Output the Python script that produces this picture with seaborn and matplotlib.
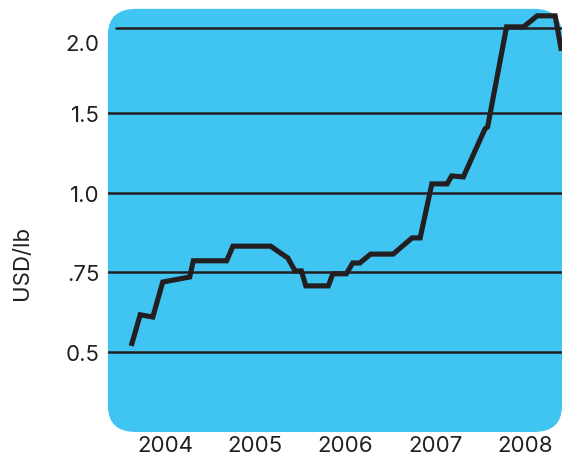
# Price chart, USD/lb, 2004-2008 (uneven value axis, rounded blue panel)

import numpy as np
import pandas as pd
import matplotlib.pyplot as plt
import seaborn as sns
from matplotlib.patches import FancyBboxPatch

sns.set_theme(style="white")
plt.rcParams["font.family"] = ["Inter", "DejaVu Sans"]

# ── Data ────────────────────────────────────────────────────
years = [2004.12, 2004.22, 2004.36, 2004.47, 2004.77, 2004.81, 2005.18,
         2005.25, 2005.67, 2005.79, 2005.86, 2005.94, 2006.01, 2006.06,
         2006.31, 2006.36, 2006.51, 2006.58, 2006.66, 2006.78, 2007.03,
         2007.24, 2007.33, 2007.46, 2007.63, 2007.68, 2007.81, 2008.05,
         2008.08, 2008.29, 2008.48, 2008.63, 2008.83, 2008.90]
price = [0.518, 0.616, 0.609, 0.719, 0.735, 0.786, 0.786,
         0.832, 0.832, 0.808, 0.795, 0.754, 0.754, 0.707,
         0.707, 0.745, 0.745, 0.779, 0.779, 0.807, 0.807,
         0.858, 0.858, 1.056, 1.056, 1.106, 1.100, 1.402,
         1.415, 2.105, 2.105, 2.182, 2.182, 1.937]

year_labels = ["2004", "2005", "2006", "2007", "2008"]
tick_vals = [0.5, 0.75, 1.0, 1.5, 2.0]
tick_labels = ["0.5", ".75", "1.0", "1.5", "2.0"]
grid_vals = [0.5, 0.75, 1.0, 1.5, 2.1]

# uneven value axis: value knots -> even-ish positions
scale_vals = [0.0, 0.5, 0.75, 1.0, 1.5, 2.0, 3.0]
scale_pos = [-2.0, 0.0, 1.0, 2.0, 3.0, 3.9, 5.7]


def fwd(v):
    return np.interp(v, scale_vals, scale_pos)


def inv(p):
    return np.interp(p, scale_pos, scale_vals)


df = pd.DataFrame({"year": years, "price": price})

BLUE = "#40C5F3"
INK = "#231F20"

# ── Figure ──────────────────────────────────────────────────
fig = plt.figure(figsize=(5.62, 4.56), dpi=100)
ax = fig.add_axes([0.192, 0.0504, 0.808, 0.928])
ax.set_yscale("function", functions=(fwd, inv))

# rounded panel instead of the plain axes background
ax.patch.set_visible(False)
panel = FancyBboxPatch((0, 0), 1, 1, boxstyle="round,pad=0,rounding_size=0.062",
                       transform=ax.transAxes, facecolor=BLUE, edgecolor="none",
                       zorder=0, clip_on=False)
ax.add_patch(panel)

for g in grid_vals:
    xmin = 0.018 if g > 2 else 0.0
    ax.axhline(g, xmin=xmin, xmax=1, color=INK, lw=1.8, zorder=1)

sns.lineplot(data=df, x="year", y="price", ax=ax, color=INK, lw=3.7,
             zorder=3, solid_joinstyle="miter", solid_capstyle="butt")

ax.set_xlim(2003.861, 2008.906)
ax.set_ylim(0.247, 2.231)

ax.set_xticks([int(y) + 0.5 for y in year_labels])
ax.set_xticklabels(year_labels)
ax.set_yticks(tick_vals)
ax.set_yticklabels(tick_labels)
ax.tick_params(axis="both", length=0, labelsize=16, colors=INK)
ax.tick_params(axis="x", pad=2)
ax.tick_params(axis="y", pad=6)
ax.minorticks_off()

ax.set_xlabel("")
ax.set_ylabel("USD/lb", fontsize=16, color=INK)
ax.yaxis.set_label_coords(-0.167, 0.402)

for s in ax.spines.values():
    s.set_visible(False)

fig.savefig("out.png", dpi=100)
